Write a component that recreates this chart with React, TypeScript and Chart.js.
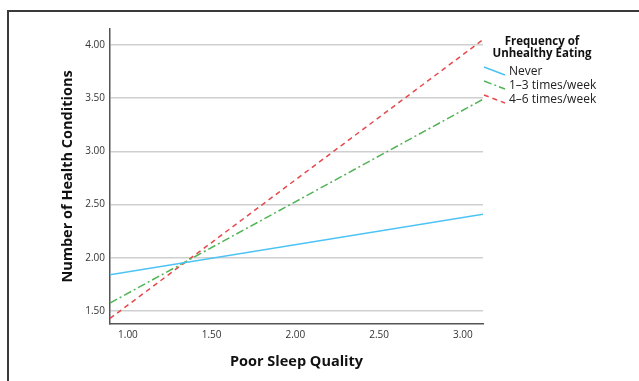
import React, { useEffect, useRef } from "react";
import { Chart, registerables } from "chart.js";

Chart.register(...registerables);

const xEnds = [0.893, 3.12];
const xTicks = [1.0, 1.5, 2.0, 2.5, 3.0];
const yTicks = [1.5, 2.0, 2.5, 3.0, 3.5, 4.0];
const seriesNames = ["Never", "1–3 times/week", "4–6 times/week"];
const never = [1.84, 2.41];
const times13 = [1.575, 3.49];
const times46 = [1.43, 4.05];
const legendTitle = ["Frequency of", "Unhealthy Eating"];
const xTitle = "Poor Sleep Quality";
const yTitle = "Number of Health Conditions";

const colors = ["#4cc3f5", "#52b356", "#e5494d"];
const dashes = [[], [8, 3, 2, 3], [5, 4]];

const FONT = "'Open Sans', 'DejaVu Sans', sans-serif";

const legendPlugin = {
  id: "customLegend",
  afterDraw(chart: any) {
    const ctx = chart.ctx;
    ctx.save();
    ctx.fillStyle = "#111";
    ctx.font = `bold 11.5px ${FONT}`;
    ctx.textAlign = "center";
    ctx.textBaseline = "middle";
    ctx.fillText(legendTitle[0], 542, 42);
    ctx.fillText(legendTitle[1], 542, 54);
    const ys = [72, 86, 100];
    chart.data.datasets.forEach((ds: any, i: number) => {
      const y = ys[i];
      ctx.strokeStyle = ds.borderColor;
      ctx.lineWidth = 1.5;
      ctx.setLineDash(ds.borderDash || []);
      ctx.beginPath();
      ctx.moveTo(484, y - 5);
      ctx.lineTo(505, y + 3);
      ctx.stroke();
      ctx.setLineDash([]);
      ctx.fillStyle = "#222";
      ctx.font = `12px ${FONT}`;
      ctx.textAlign = "left";
      ctx.fillText(ds.label, 509, y);
    });
    ctx.restore();
  },
};

export default function App() {
  const ref = useRef<HTMLCanvasElement>(null);
  useEffect(() => {
    if (!ref.current) return;
    const series = [never, times13, times46];
    const chart = new Chart(ref.current, {
      type: "line",
      data: {
        datasets: series.map((s, i) => ({
          label: seriesNames[i],
          data: xEnds.map((x, j) => ({ x, y: s[j] })),
          borderColor: colors[i],
          backgroundColor: colors[i],
          borderDash: dashes[i],
          borderWidth: 1.5,
          pointRadius: 0,
          tension: 0,
          fill: false,
        })),
      },
      options: {
        responsive: false,
        animation: false,
        layout: { padding: { left: 59, top: 29, right: 156, bottom: 10 } },
        plugins: { legend: { display: false }, tooltip: { enabled: false } },
        scales: {
          x: {
            type: "linear",
            min: xEnds[0],
            max: xEnds[1],
            afterBuildTicks: (s: any) => {
              s.ticks = xTicks.map((v) => ({ value: v }));
            },
            afterFit: (s: any) => {
              s.height = 47;
            },
            grid: { display: false, drawTicks: false },
            border: { display: true, color: "#555", width: 1.5 },
            ticks: {
              padding: 5,
              color: "#333",
              font: { family: FONT, size: 10 },
              callback: (v: any) => Number(v).toFixed(2),
              maxRotation: 0,
            },
            title: {
              display: true,
              text: xTitle,
              color: "#111",
              font: { family: FONT, size: 14.5, weight: "bold" },
              padding: 0,
            },
          },
          y: {
            type: "linear",
            min: 1.378,
            max: 4.15,
            afterBuildTicks: (s: any) => {
              s.ticks = yTicks.map((v) => ({ value: v }));
            },
            afterFit: (s: any) => {
              s.width = 51;
            },
            grid: { display: true, drawTicks: false, color: "#cfcfcf", lineWidth: 1.5 },
            border: { display: true, color: "#555", width: 1.5 },
            ticks: {
              padding: 5,
              color: "#333",
              font: { family: FONT, size: 10 },
              callback: (v: any) => Number(v).toFixed(2),
            },
            title: {
              display: true,
              text: yTitle,
              color: "#111",
              font: { family: FONT, size: 14.5, weight: "bold" },
              padding: 0,
            },
          },
        },
      },
      plugins: [legendPlugin],
    } as any);
    return () => chart.destroy();
  }, []);

  return (
    <div
      style={{
        position: "fixed",
        left: 0,
        top: 0,
        width: 639,
        height: 381,
        overflow: "hidden",
        background: "#fff",
      }}
    >
      <div
        style={{
          position: "absolute",
          left: 7,
          top: 10,
          width: 700,
          height: 400,
          borderTop: "2px solid #3a3a3a",
          borderLeft: "2px solid #3a3a3a",
        }}
      />
      <canvas
        ref={ref}
        width={639}
        height={381}
        style={{ position: "absolute", left: 0, top: 0, width: 639, height: 381 }}
      />
    </div>
  );
}
